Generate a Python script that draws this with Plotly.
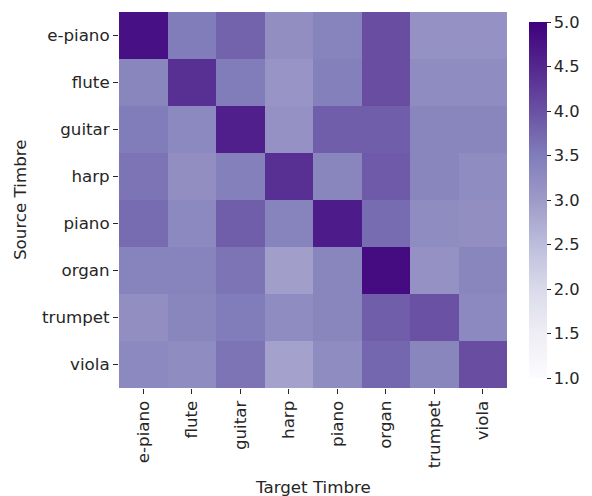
import plotly.graph_objects as go

timbres = ["e-piano", "flute", "guitar", "harp", "piano", "organ", "trumpet", "viola"]

row_epiano = [4.8, 3.5, 3.8, 3.2, 3.4, 4.05, 3.15, 3.15]
row_flute = [3.35, 4.4, 3.5, 3.1, 3.45, 4.05, 3.25, 3.25]
row_guitar = [3.5, 3.3, 4.6, 3.15, 3.85, 3.85, 3.35, 3.35]
row_harp = [3.6, 3.2, 3.45, 4.4, 3.35, 3.9, 3.35, 3.25]
row_piano = [3.7, 3.3, 3.85, 3.4, 4.65, 3.7, 3.25, 3.2]
row_organ = [3.4, 3.4, 3.6, 2.95, 3.35, 4.85, 3.15, 3.35]
row_trumpet = [3.2, 3.35, 3.5, 3.25, 3.35, 3.85, 4.0, 3.3]
row_viola = [3.3, 3.25, 3.6, 2.9, 3.25, 3.75, 3.35, 4.05]

z = [row_epiano, row_flute, row_guitar, row_harp, row_piano, row_organ, row_trumpet, row_viola]

font = dict(family="DejaVu Sans", size=16.7, color="#262626")
cb_font = dict(family="DejaVu Sans", size=16.3, color="#262626")

L, R, T, B = 119, 85, 12, 108
W, H = 592, 496
plot_w = W - L - R
plot_h = H - T - B

fig = go.Figure(go.Heatmap(
    z=z, x=timbres, y=timbres,
    colorscale="Purples", zmin=1, zmax=5,
    colorbar=dict(
        x=(529 - L) / plot_w, xanchor="left", thickness=18, len=1.0, y=0.5, yanchor="middle",
        outlinewidth=0, tickmode="linear", tick0=1, dtick=0.5, tickformat=".1f",
        ticks="outside", ticklen=4, tickcolor="#262626",
        tickfont=cb_font, xpad=0,
    ),
    hoverongaps=False,
))

fig.update_layout(
    width=W, height=H,
    margin=dict(l=L, r=R, t=T, b=B, autoexpand=False),
    plot_bgcolor="white", paper_bgcolor="white",
    font=font,
    xaxis=dict(tickangle=-90,
               ticks="outside", ticklen=5, tickcolor="#262626", showgrid=False,
               zeroline=False, tickfont=font, automargin=False),
    yaxis=dict(autorange="reversed",
               ticks="outside", ticklen=5, tickcolor="#262626", showgrid=False,
               zeroline=False, tickfont=font, automargin=False),
    annotations=[
        dict(text="Target Timbre", xref="paper", yref="paper",
             x=0.5, y=-(487 - (T + plot_h)) / plot_h, xanchor="center", yanchor="middle",
             showarrow=False, font=font),
        dict(text="Source Timbre", xref="paper", yref="paper",
             x=(20 - L) / plot_w, y=0.5, xanchor="center", yanchor="middle",
             textangle=-90, showarrow=False, font=font),
    ],
)

fig.write_html("out.html", config={"displayModeBar": False},
               post_script="document.body.style.margin='0';document.body.style.padding='0';")
